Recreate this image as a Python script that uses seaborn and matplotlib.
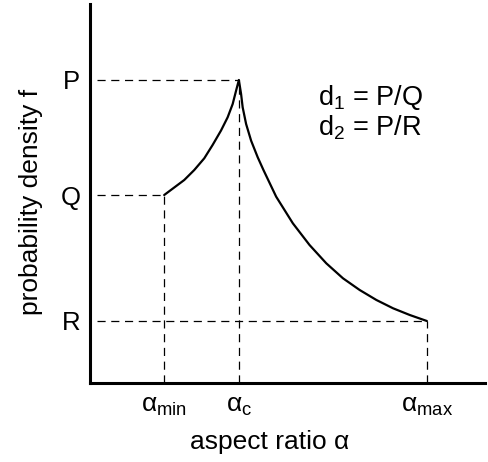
import matplotlib
matplotlib.use("Agg")
import matplotlib.pyplot as plt
import seaborn as sns
import numpy as np

# ---- data ----
rise_x = [1.878, 2.132, 2.386, 2.640, 2.893, 3.104, 3.317, 3.485, 3.612, 3.698, 3.769]
rise_y = [4.960, 5.158, 5.356, 5.620, 5.929, 6.280, 6.662, 7.011, 7.361, 7.712, 7.995]
fall_x = [3.769, 3.825, 3.865, 3.952, 4.079, 4.246, 4.391, 4.713, 5.135, 5.558,
          5.982, 6.404, 6.827, 7.251, 7.673, 8.096, 8.528]
fall_y = [7.995, 7.625, 7.274, 6.834, 6.393, 5.955, 5.620, 4.916, 4.214, 3.641,
          3.158, 2.763, 2.454, 2.190, 1.971, 1.794, 1.636]

level_names = ["P", "Q", "R"]
level_values = [7.995, 4.960, 1.636]
level_x = [3.769, 1.878, 8.528]          # x where each level meets the curve

alpha_names = [r"$\mathrm{\alpha_{min}}$", r"$\mathrm{\alpha_{c}}$", r"$\mathrm{\alpha_{max}}$"]
alpha_values = [1.878, 3.769, 8.528]
alpha_y = [4.960, 7.995, 1.636]          # y where each alpha meets the curve

note_lines = [r"$\mathrm{d_1}$ = P/Q", r"$\mathrm{d_2}$ = P/R"]

# ---- style ----
sns.set_theme(style="white")
plt.rcParams["font.family"] = ["Liberation Sans", "DejaVu Sans"]
plt.rcParams["mathtext.fontset"] = "custom"
plt.rcParams["mathtext.rm"] = "Liberation Sans"
plt.rcParams["mathtext.it"] = "Liberation Sans:italic"
plt.rcParams["mathtext.bf"] = "Liberation Sans:bold"
for k in ["text.color", "axes.labelcolor", "xtick.color", "ytick.color", "axes.edgecolor"]:
    plt.rcParams[k] = "black"

fig = plt.figure(figsize=(4.88, 4.62), dpi=100)
ax = fig.add_axes([90 / 488, 1 - 383 / 462, 395 / 488, 379 / 462])

# curve
sns.lineplot(x=rise_x + fall_x[1:], y=rise_y + fall_y[1:], ax=ax, color="black",
             lw=1.6, sort=False, estimator=None)

dash_kw = dict(color="black", lw=0.9, linestyle=(0, (6.5, 4.5)))
x_start = 0.18
for yv, xv in zip(level_values, level_x):
    ax.plot([x_start, xv], [yv, yv], **dash_kw)
for xv, yv in zip(alpha_values, alpha_y):
    ax.plot([xv, xv], [0, yv], **dash_kw)

ax.set_xlim(0, 10)
ax.set_ylim(0, 10)
ax.set_xticks(alpha_values)
ax.set_xticklabels(alpha_names, fontsize=19)
ax.set_yticks(level_values)
ax.set_yticklabels(level_names, fontsize=18.5)
ax.tick_params(axis="both", length=0)
ax.tick_params(axis="y", pad=7)
ax.tick_params(axis="x", pad=8)

for s in ["top", "right"]:
    ax.spines[s].set_visible(False)
for s in ["left", "bottom"]:
    ax.spines[s].set_linewidth(2.2)
    ax.spines[s].set_color("black")

ax.set_xlabel("aspect ratio α", fontsize=19)
ax.set_ylabel("probability density f", fontsize=19)
ax.xaxis.set_label_coords(0.456, -0.124)
ax.yaxis.set_label_coords(-0.12, 0.479)

ax.text(5.78, 7.34, note_lines[0], fontsize=19.5, ha="left", va="baseline")
ax.text(5.78, 6.52, note_lines[1], fontsize=19.5, ha="left", va="baseline")

fig.savefig("out.png", dpi=100, facecolor="white")
